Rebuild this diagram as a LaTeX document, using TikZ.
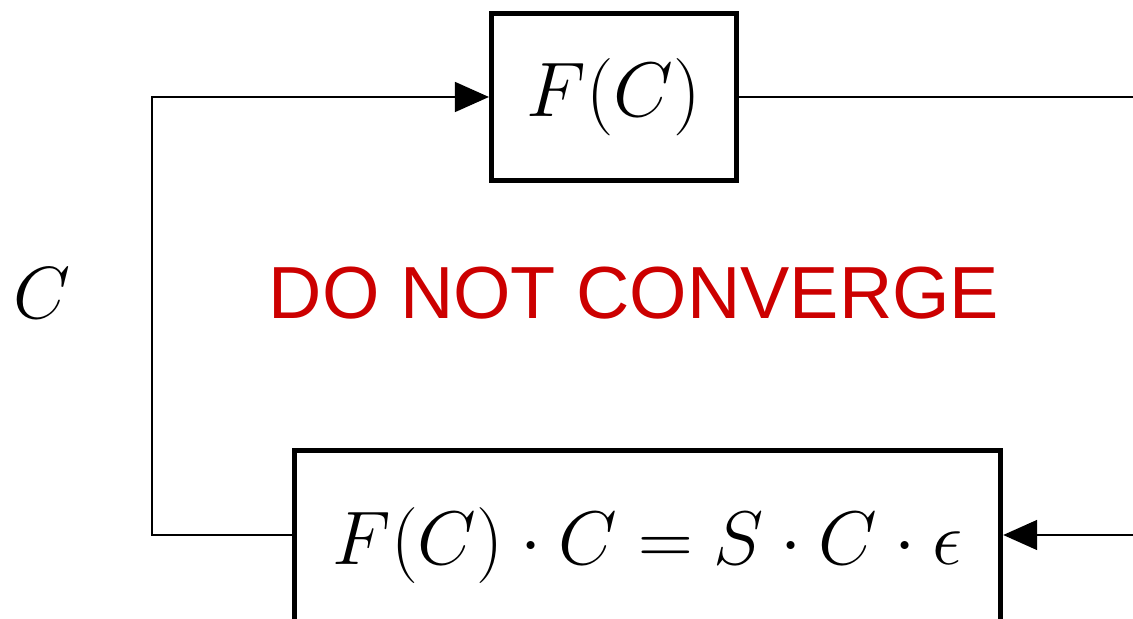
\RequirePackage{fix-cm}
\documentclass[tikz,border=0pt]{standalone}
\usepackage{amsmath}
\usepackage{fontspec}
\usepackage{xcolor}
\newfontfamily\warnfont{Liberation Sans}
\definecolor{warnred}{RGB}{204,0,0}
\usetikzlibrary{arrows.meta,positioning,calc}

\begin{document}
\begin{tikzpicture}[
    x=0.01cm, y=-0.01cm,
    block/.style={rectangle, draw, line width=1.42pt, inner sep=0pt,
                  font=\fontsize{22}{26}\selectfont},
    signal/.style={line width=0.45pt},
    arrow/.style={signal, -{Triangle[length=0.34cm,width=0.3cm]}}
  ]
    \useasboundingbox (0,0) rectangle (1133,619);
    \clip (0,0) rectangle (1133,619);

    \node[block, minimum width=2.45cm, minimum height=1.67cm] (func) at (614,97) {$F(C)$};
    \node[block, minimum width=7.06cm, minimum height=1.9cm,
          font=\fontsize{21.6}{26}\selectfont] (update) at (647.5,546)
        {$F(C)\cdot C = S\cdot C\cdot\epsilon$\hspace{0.08cm}};
    \node[font=\fontsize{21}{25}\selectfont] (clabel) at (42,293) {$C$};
    \node[text=warnred, font=\warnfont\fontsize{21}{25}\selectfont] (warn) at (634,293)
        {DO NOT CONVERGE};

    \coordinate (low) at (152,535);
    \coordinate (high) at (152,97);
    \coordinate (out) at (1150,97);
    \coordinate (back) at (1150,535);

    \draw[arrow] (low -| update.west) -- (low) -- (high) -- (func.west);
    \draw[signal] (func.east) -- (out);
    \draw[arrow] (back) -- (back -| update.east);
  \end{tikzpicture}
\end{document}
